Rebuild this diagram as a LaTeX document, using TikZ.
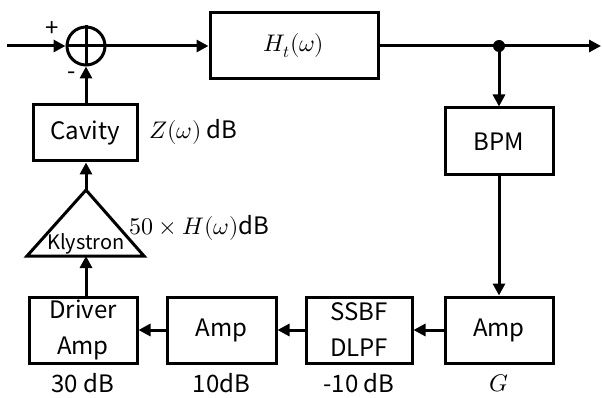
\documentclass[tikz,border=0pt]{standalone}
\usepackage{fontspec}
\setmainfont{Noto Sans CJK JP}
\usepackage{unicode-math}
\setmathfont{Latin Modern Math}
\usetikzlibrary{arrows.meta,shapes.geometric}
\begin{document}
\begin{tikzpicture}[x=1pt,y=-1pt,
  line width=3pt,
  >={Triangle[length=12pt,width=12pt]},
  blk/.style={draw,rectangle,inner sep=0pt,font=\fontsize{24}{36}\selectfont},
  lbl/.style={font=\fontsize{24}{28}\selectfont,inner sep=0pt}]
\useasboundingbox (0,0) rectangle (602,398);
\coordinate (in) at (7,46);
\node[draw,circle,minimum size=38pt,inner sep=0pt] (sum) at (86,46) {};
\draw (sum.north)--(sum.south) (sum.west)--(sum.east);
\node[blk,minimum width=168pt,minimum height=66pt] (H) at (294,46) {$H_t(\omega)$};
\coordinate (split) at (499,46);
\coordinate (out) at (601,46);
\node[blk,minimum width=108pt,minimum height=67pt] (bpm) at (499,141.5) {BPM};
\node[blk,minimum width=108pt,minimum height=66pt] (amp1) at (499,330) {Amp};
\node[blk,minimum width=106pt,minimum height=66pt,align=center] (ssb) at (359,330) {SSBF\\DLPF};
\node[blk,minimum width=109pt,minimum height=66pt] (amp2) at (221.5,330) {Amp};
\node[blk,minimum width=108pt,minimum height=66pt,align=center] (drv) at (83,330) {Driver\\Amp};
\node[blk,minimum width=104pt,minimum height=56pt] (cav) at (85,133) {Cavity};
\coordinate (kapex) at (86,190);
\coordinate (kl) at (27,256);
\coordinate (kr) at (144,256);
\draw[line join=miter] (kapex)--(kl)--(kr)--cycle;
\node[lbl,font=\fontsize{20}{24}\selectfont] (kly) at (86,244) {Klystron};
\coordinate (kbase) at (86,256);
\node[lbl,anchor=west] (zlab) at (148,132) {$Z(\omega)$ dB};
\node[lbl,anchor=west] (hlab) at (128,228) {$50\times H(\omega)$dB};
\node[lbl] (l1) at (83,383) {30 dB};
\node[lbl] (l2) at (221.5,383) {10dB};
\node[lbl] (l3) at (359,383) {-10 dB};
\node[lbl] (l4) at (499,383) {$G$};
\node[lbl] (plus) at (52,29) {+};
\node[lbl] (minus) at (72,76) {-};
\draw[->] (in)--(sum.west);
\draw[->] (sum.east)--(H.west);
\draw (H.east)--(split);
\draw[->] (split)--(out);
\fill (split) circle (6pt);
\draw[->] (split)--(split|-bpm.north);
\draw[->] (bpm.south)--(amp1.north);
\draw[->] (amp1.west)--(ssb.east);
\draw[->] (ssb.west)--(amp2.east);
\draw[->] (amp2.west)--(drv.east);
\draw[->] (drv.north-|kbase)--(kbase);
\draw[->] (kapex)--(kapex|-cav.south);
\draw[->] (cav.north-|sum)--(sum.south);
\end{tikzpicture}
\end{document}
